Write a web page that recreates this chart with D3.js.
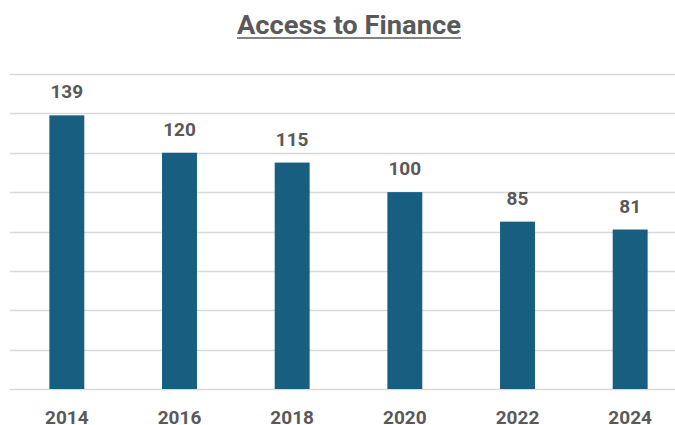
<!DOCTYPE html>
<html>
<head>
<meta charset="utf-8">
<script src="https://cdn.jsdelivr.net/npm/d3@7"></script>
<style>
  html, body { margin: 0; padding: 0; background: #fff; overflow: hidden; }
  svg { display: block; }
</style>
</head>
<body>
<svg id="chart" width="675" height="425"></svg>
<script>
// Number of firms reporting access to finance as a constraint, by survey year
const years = ["2014", "2016", "2018", "2020", "2022", "2024"];
const values = [139, 120, 115, 100, 85, 81];
const gridTicks = [0, 20, 40, 60, 80, 100, 120, 140, 160];
const title = "Access to Finance";

const svg = d3.select("#chart");
const textColor = "#595959";
const barColor = "#175e81";
const gridColor = "#d9d9d9";

const x = d3.scaleBand()
  .domain(years)
  .range([10.5, 686.5])
  .paddingInner(0.69)
  .paddingOuter(0.345);

const y = d3.scaleLinear()
  .domain([0, 160])
  .range([389, 74]);

// Horizontal gridlines
svg.append("g")
  .selectAll("line")
  .data(gridTicks)
  .join("line")
  .attr("x1", 10)
  .attr("x2", 686)
  .attr("y1", d => Math.round(y(d)) + 0.5)
  .attr("y2", d => Math.round(y(d)) + 0.5)
  .attr("stroke", gridColor)
  .attr("stroke-width", 1.5);

// Bars
svg.append("g")
  .selectAll("rect")
  .data(years.map((yr, i) => ({ yr, v: values[i] })))
  .join("rect")
  .attr("x", d => x(d.yr))
  .attr("y", d => y(d.v))
  .attr("width", x.bandwidth())
  .attr("height", d => y(0) - y(d.v))
  .attr("fill", barColor);

// Value labels above bars
svg.append("g")
  .selectAll("text")
  .data(years.map((yr, i) => ({ yr, v: values[i] })))
  .join("text")
  .attr("x", d => x(d.yr) + x.bandwidth() / 2)
  .attr("y", d => y(d.v) - 17)
  .attr("text-anchor", "middle")
  .attr("font-family", "Roboto, 'Noto Sans', sans-serif")
  .attr("font-weight", 700)
  .attr("font-size", 19)
  .attr("fill", textColor)
  .text(d => d.v);

// Category axis labels
const xAxis = svg.append("g")
  .attr("transform", "translate(0,389)")
  .call(d3.axisBottom(x).tickSize(0).tickPadding(0));
xAxis.select(".domain").remove();
xAxis.selectAll("text")
  .attr("y", 35)
  .attr("dy", null)
  .attr("font-family", "Roboto, 'Noto Sans', sans-serif")
  .attr("font-weight", 700)
  .attr("font-size", 19)
  .attr("fill", textColor);

// Title with underline
const t = svg.append("text")
  .attr("x", 349)
  .attr("y", 34)
  .attr("text-anchor", "middle")
  .attr("font-family", "Roboto, 'Noto Sans', sans-serif")
  .attr("font-weight", 700)
  .attr("font-size", 25)
  .attr("fill", textColor)
  .attr("textLength", 224)
  .attr("lengthAdjust", "spacingAndGlyphs")
  .text(title);
const bb = t.node().getBBox();
svg.append("line")
  .attr("x1", bb.x)
  .attr("x2", bb.x + bb.width)
  .attr("y1", 38)
  .attr("y2", 38)
  .attr("stroke", textColor)
  .attr("stroke-width", 1.5);
</script>
</body>
</html>
